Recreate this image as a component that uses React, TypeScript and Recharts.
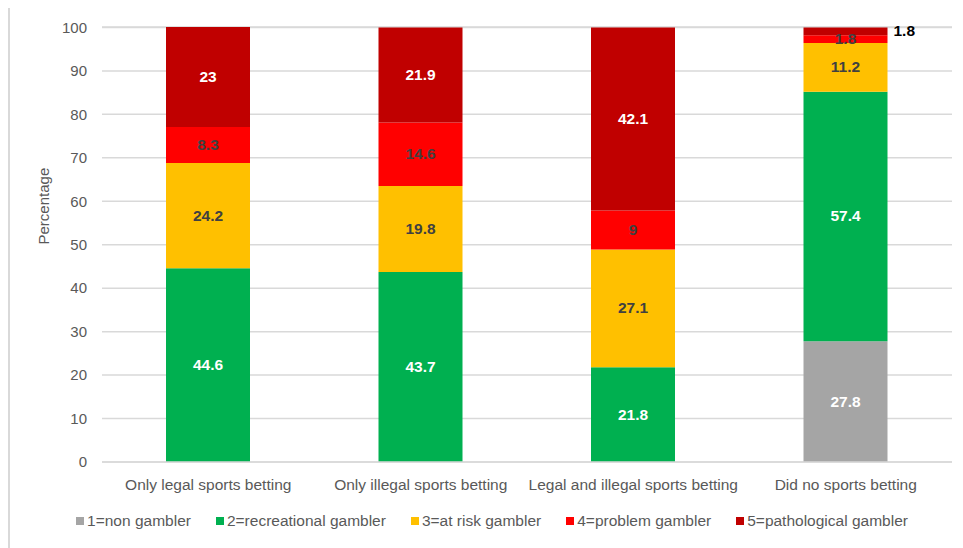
import React from 'react';
import { BarChart, Bar, XAxis, YAxis, CartesianGrid, Legend, LabelList } from 'recharts';

const categories = [
  'Only legal sports betting',
  'Only illegal sports betting',
  'Legal and illegal sports betting',
  'Did no sports betting',
];
const nonGambler = [0, 0, 0, 27.8];
const recreational = [44.6, 43.7, 21.8, 57.4];
const atRisk = [24.2, 19.8, 27.1, 11.2];
const problem = [8.3, 14.6, 9, 1.8];
const pathological = [23, 21.9, 42.1, 1.8];
const yTicks = [0, 10, 20, 30, 40, 50, 60, 70, 80, 90, 100];

const data = categories.map((name, i) => ({
  name,
  non: nonGambler[i],
  rec: recreational[i],
  risk: atRisk[i],
  prob: problem[i],
  path: pathological[i],
}));

const FONT = '"Liberation Sans", Arial, sans-serif';

const makeLabel = (color: string, outsideSmall = false) => (props: any) => {
  const { x, y, width, height, value } = props;
  if (!value) return null;
  if (outsideSmall && value < 5) {
    return (
      <text x={x + width + 6} y={y + height / 2} dy={5} fill="#000" fontSize={15.5} fontWeight="bold" fontFamily={FONT}>
        {value}
      </text>
    );
  }
  return (
    <text x={x + width / 2} y={y + height / 2} dy={5} textAnchor="middle" fill={color} fontSize={15.5} fontWeight="bold" fontFamily={FONT}>
      {value}
    </text>
  );
};

const renderLegend = (props: any) => {
  const { payload } = props;
  return (
    <div style={{ display: 'flex', justifyContent: 'center', gap: 25, paddingLeft: 22, fontSize: 15.5, fontFamily: FONT, color: '#595959' }}>
      {payload.map((p: any) => (
        <span key={p.value} style={{ display: 'flex', alignItems: 'center' }}>
          <span style={{ width: 8, height: 8, background: p.color, display: 'inline-block', marginRight: 3 }} />
          {p.value}
        </span>
      ))}
    </div>
  );
};

export default function App() {
  return (
    <div style={{ marginTop: -2, width: 955, height: 542, borderLeft: '2px solid #d9d9d9', borderTop: '2px solid #d9d9d9', fontFamily: FONT }}>
      <BarChart width={953} height={540} data={data} margin={{ top: 19, right: 11, left: 0, bottom: 24 }} barSize={84}>
        <CartesianGrid vertical={false} stroke="#d9d9d9" strokeWidth={1.5} />
        <XAxis
          dataKey="name"
          tickLine={false}
          axisLine={{ stroke: '#d9d9d9', strokeWidth: 1.5 }}
          tick={{ fill: '#595959', fontSize: 15.5, fontFamily: FONT }}
          tickMargin={11}
          height={44}
        />
        <YAxis
          domain={[0, 100]}
          ticks={yTicks}
          width={92}
          axisLine={false}
          tickLine={false}
          tickSize={0}
          tickMargin={15}
          tick={{ fill: '#595959', fontSize: 15, fontFamily: FONT }}
          label={{ value: 'Percentage', angle: -90, position: 'insideLeft', offset: 34, fill: '#595959', fontSize: 15, fontFamily: FONT }}
        />
        <Legend
          verticalAlign="bottom"
          content={renderLegend}
          wrapperStyle={{ bottom: 18 }}
        />
        <Bar dataKey="non" name="1=non gambler" stackId="a" fill="#a5a5a5" isAnimationActive={false}>
          <LabelList dataKey="non" content={makeLabel('#ffffff')} />
        </Bar>
        <Bar dataKey="rec" name="2=recreational gambler" stackId="a" fill="#00b050" isAnimationActive={false}>
          <LabelList dataKey="rec" content={makeLabel('#ffffff')} />
        </Bar>
        <Bar dataKey="risk" name="3=at risk gambler" stackId="a" fill="#ffc000" isAnimationActive={false}>
          <LabelList dataKey="risk" content={makeLabel('#404040')} />
        </Bar>
        <Bar dataKey="prob" name="4=problem gambler" stackId="a" fill="#ff0000" isAnimationActive={false}>
          <LabelList dataKey="prob" content={makeLabel('#404040')} />
        </Bar>
        <Bar dataKey="path" name="5=pathological gambler" stackId="a" fill="#c00000" isAnimationActive={false}>
          <LabelList dataKey="path" content={makeLabel('#ffffff', true)} />
        </Bar>
      </BarChart>
    </div>
  );
}
